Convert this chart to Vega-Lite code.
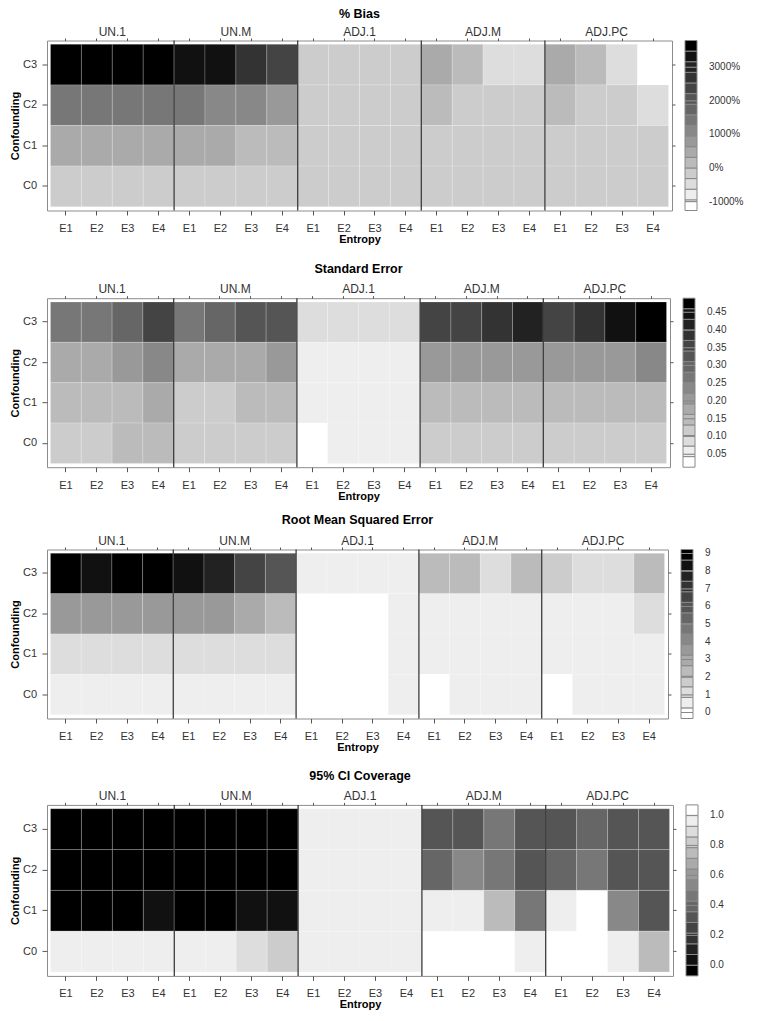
{
  "$schema": "https://vega.github.io/schema/vega-lite/v6.json",
  "padding": {"left": 8, "top": 6.5, "right": 5, "bottom": 5},
  "config": {
    "font": "Liberation Sans",
    "view": {"stroke": "#8c8c8c", "strokeWidth": 1},
    "axis": {"labelFontSize": 11, "labelColor": "#333333", "tickColor": "#555555", "titleFontSize": 11, "titleFontWeight": "bold", "titleColor": "#000000", "grid": false},
    "title": {"fontSize": 12.5, "fontWeight": "bold", "frame": "group", "anchor": "middle", "color": "#000000"},
    "legend": {"labelFontSize": 10, "labelColor": "#333333", "gradientThickness": 12, "offset": 9, "labelOffset": 12, "gradientStrokeColor": "#888888", "gradientStrokeWidth": 1, "labelOverlap": false}
  },
  "datasets": {
    "seps": [{"g": "UN.M"}, {"g": "ADJ.1"}, {"g": "ADJ.M"}, {"g": "ADJ.PC"}],
    "bias": [
      {"k":"UN.1|E1","c":"C3","v":3550},{"k":"UN.1|E2","c":"C3","v":3550},{"k":"UN.1|E3","c":"C3","v":3550},{"k":"UN.1|E4","c":"C3","v":3550},
      {"k":"UN.1|E1","c":"C2","v":1420},{"k":"UN.1|E2","c":"C2","v":1420},{"k":"UN.1|E3","c":"C2","v":1420},{"k":"UN.1|E4","c":"C2","v":1420},
      {"k":"UN.1|E1","c":"C1","v":470},{"k":"UN.1|E2","c":"C1","v":470},{"k":"UN.1|E3","c":"C1","v":470},{"k":"UN.1|E4","c":"C1","v":470},
      {"k":"UN.1|E1","c":"C0","v":-50},{"k":"UN.1|E2","c":"C0","v":-50},{"k":"UN.1|E3","c":"C0","v":-50},{"k":"UN.1|E4","c":"C0","v":-50},
      {"k":"UN.M|E1","c":"C3","v":3320},{"k":"UN.M|E2","c":"C3","v":3320},{"k":"UN.M|E3","c":"C3","v":2690},{"k":"UN.M|E4","c":"C3","v":2370},
      {"k":"UN.M|E1","c":"C2","v":1420},{"k":"UN.M|E2","c":"C2","v":1100},{"k":"UN.M|E3","c":"C2","v":1100},{"k":"UN.M|E4","c":"C2","v":790},
      {"k":"UN.M|E1","c":"C1","v":470},{"k":"UN.M|E2","c":"C1","v":470},{"k":"UN.M|E3","c":"C1","v":160},{"k":"UN.M|E4","c":"C1","v":160},
      {"k":"UN.M|E1","c":"C0","v":-50},{"k":"UN.M|E2","c":"C0","v":-50},{"k":"UN.M|E3","c":"C0","v":-50},{"k":"UN.M|E4","c":"C0","v":-50},
      {"k":"ADJ.1|E1","c":"C3","v":-50},{"k":"ADJ.1|E2","c":"C3","v":-50},{"k":"ADJ.1|E3","c":"C3","v":-50},{"k":"ADJ.1|E4","c":"C3","v":-50},
      {"k":"ADJ.1|E1","c":"C2","v":-50},{"k":"ADJ.1|E2","c":"C2","v":-50},{"k":"ADJ.1|E3","c":"C2","v":-50},{"k":"ADJ.1|E4","c":"C2","v":-50},
      {"k":"ADJ.1|E1","c":"C1","v":-50},{"k":"ADJ.1|E2","c":"C1","v":-50},{"k":"ADJ.1|E3","c":"C1","v":-50},{"k":"ADJ.1|E4","c":"C1","v":-50},
      {"k":"ADJ.1|E1","c":"C0","v":-50},{"k":"ADJ.1|E2","c":"C0","v":-50},{"k":"ADJ.1|E3","c":"C0","v":-50},{"k":"ADJ.1|E4","c":"C0","v":-50},
      {"k":"ADJ.M|E1","c":"C3","v":470},{"k":"ADJ.M|E2","c":"C3","v":160},{"k":"ADJ.M|E3","c":"C3","v":-470},{"k":"ADJ.M|E4","c":"C3","v":-470},
      {"k":"ADJ.M|E1","c":"C2","v":160},{"k":"ADJ.M|E2","c":"C2","v":-50},{"k":"ADJ.M|E3","c":"C2","v":-50},{"k":"ADJ.M|E4","c":"C2","v":-50},
      {"k":"ADJ.M|E1","c":"C1","v":-50},{"k":"ADJ.M|E2","c":"C1","v":-50},{"k":"ADJ.M|E3","c":"C1","v":-50},{"k":"ADJ.M|E4","c":"C1","v":-50},
      {"k":"ADJ.M|E1","c":"C0","v":-50},{"k":"ADJ.M|E2","c":"C0","v":-50},{"k":"ADJ.M|E3","c":"C0","v":-50},{"k":"ADJ.M|E4","c":"C0","v":-50},
      {"k":"ADJ.PC|E1","c":"C3","v":470},{"k":"ADJ.PC|E2","c":"C3","v":160},{"k":"ADJ.PC|E3","c":"C3","v":-470},{"k":"ADJ.PC|E4","c":"C3","v":-1000},
      {"k":"ADJ.PC|E1","c":"C2","v":160},{"k":"ADJ.PC|E2","c":"C2","v":-50},{"k":"ADJ.PC|E3","c":"C2","v":-50},{"k":"ADJ.PC|E4","c":"C2","v":-470},
      {"k":"ADJ.PC|E1","c":"C1","v":-50},{"k":"ADJ.PC|E2","c":"C1","v":-50},{"k":"ADJ.PC|E3","c":"C1","v":-50},{"k":"ADJ.PC|E4","c":"C1","v":-50},
      {"k":"ADJ.PC|E1","c":"C0","v":-50},{"k":"ADJ.PC|E2","c":"C0","v":-50},{"k":"ADJ.PC|E3","c":"C0","v":-50},{"k":"ADJ.PC|E4","c":"C0","v":-50}
    ],
    "se": [
      {"k":"UN.1|E1","c":"C3","v":0.266},{"k":"UN.1|E2","c":"C3","v":0.266},{"k":"UN.1|E3","c":"C3","v":0.296},{"k":"UN.1|E4","c":"C3","v":0.356},
      {"k":"UN.1|E1","c":"C2","v":0.177},{"k":"UN.1|E2","c":"C2","v":0.177},{"k":"UN.1|E3","c":"C2","v":0.207},{"k":"UN.1|E4","c":"C2","v":0.237},
      {"k":"UN.1|E1","c":"C1","v":0.148},{"k":"UN.1|E2","c":"C1","v":0.148},{"k":"UN.1|E3","c":"C1","v":0.14},{"k":"UN.1|E4","c":"C1","v":0.177},
      {"k":"UN.1|E1","c":"C0","v":0.118},{"k":"UN.1|E2","c":"C0","v":0.118},{"k":"UN.1|E3","c":"C0","v":0.148},{"k":"UN.1|E4","c":"C0","v":0.148},
      {"k":"UN.M|E1","c":"C3","v":0.266},{"k":"UN.M|E2","c":"C3","v":0.296},{"k":"UN.M|E3","c":"C3","v":0.326},{"k":"UN.M|E4","c":"C3","v":0.326},
      {"k":"UN.M|E1","c":"C2","v":0.177},{"k":"UN.M|E2","c":"C2","v":0.177},{"k":"UN.M|E3","c":"C2","v":0.177},{"k":"UN.M|E4","c":"C2","v":0.207},
      {"k":"UN.M|E1","c":"C1","v":0.118},{"k":"UN.M|E2","c":"C1","v":0.118},{"k":"UN.M|E3","c":"C1","v":0.148},{"k":"UN.M|E4","c":"C1","v":0.148},
      {"k":"UN.M|E1","c":"C0","v":0.118},{"k":"UN.M|E2","c":"C0","v":0.118},{"k":"UN.M|E3","c":"C0","v":0.118},{"k":"UN.M|E4","c":"C0","v":0.118},
      {"k":"ADJ.1|E1","c":"C3","v":0.088},{"k":"ADJ.1|E2","c":"C3","v":0.088},{"k":"ADJ.1|E3","c":"C3","v":0.088},{"k":"ADJ.1|E4","c":"C3","v":0.088},
      {"k":"ADJ.1|E1","c":"C2","v":0.058},{"k":"ADJ.1|E2","c":"C2","v":0.058},{"k":"ADJ.1|E3","c":"C2","v":0.058},{"k":"ADJ.1|E4","c":"C2","v":0.058},
      {"k":"ADJ.1|E1","c":"C1","v":0.058},{"k":"ADJ.1|E2","c":"C1","v":0.058},{"k":"ADJ.1|E3","c":"C1","v":0.058},{"k":"ADJ.1|E4","c":"C1","v":0.058},
      {"k":"ADJ.1|E1","c":"C0","v":0.03},{"k":"ADJ.1|E2","c":"C0","v":0.058},{"k":"ADJ.1|E3","c":"C0","v":0.058},{"k":"ADJ.1|E4","c":"C0","v":0.058},
      {"k":"ADJ.M|E1","c":"C3","v":0.356},{"k":"ADJ.M|E2","c":"C3","v":0.356},{"k":"ADJ.M|E3","c":"C3","v":0.385},{"k":"ADJ.M|E4","c":"C3","v":0.415},
      {"k":"ADJ.M|E1","c":"C2","v":0.207},{"k":"ADJ.M|E2","c":"C2","v":0.207},{"k":"ADJ.M|E3","c":"C2","v":0.207},{"k":"ADJ.M|E4","c":"C2","v":0.207},
      {"k":"ADJ.M|E1","c":"C1","v":0.148},{"k":"ADJ.M|E2","c":"C1","v":0.148},{"k":"ADJ.M|E3","c":"C1","v":0.148},{"k":"ADJ.M|E4","c":"C1","v":0.148},
      {"k":"ADJ.M|E1","c":"C0","v":0.118},{"k":"ADJ.M|E2","c":"C0","v":0.118},{"k":"ADJ.M|E3","c":"C0","v":0.118},{"k":"ADJ.M|E4","c":"C0","v":0.118},
      {"k":"ADJ.PC|E1","c":"C3","v":0.356},{"k":"ADJ.PC|E2","c":"C3","v":0.385},{"k":"ADJ.PC|E3","c":"C3","v":0.445},{"k":"ADJ.PC|E4","c":"C3","v":0.47},
      {"k":"ADJ.PC|E1","c":"C2","v":0.207},{"k":"ADJ.PC|E2","c":"C2","v":0.207},{"k":"ADJ.PC|E3","c":"C2","v":0.207},{"k":"ADJ.PC|E4","c":"C2","v":0.237},
      {"k":"ADJ.PC|E1","c":"C1","v":0.148},{"k":"ADJ.PC|E2","c":"C1","v":0.148},{"k":"ADJ.PC|E3","c":"C1","v":0.148},{"k":"ADJ.PC|E4","c":"C1","v":0.148},
      {"k":"ADJ.PC|E1","c":"C0","v":0.118},{"k":"ADJ.PC|E2","c":"C0","v":0.118},{"k":"ADJ.PC|E3","c":"C0","v":0.118},{"k":"ADJ.PC|E4","c":"C0","v":0.118}
    ],
    "rmse": [
      {"k":"UN.1|E1","c":"C3","v":8.9},{"k":"UN.1|E2","c":"C3","v":8.33},{"k":"UN.1|E3","c":"C3","v":8.9},{"k":"UN.1|E4","c":"C3","v":8.9},
      {"k":"UN.1|E1","c":"C2","v":3.55},{"k":"UN.1|E2","c":"C2","v":3.55},{"k":"UN.1|E3","c":"C2","v":3.55},{"k":"UN.1|E4","c":"C2","v":3.55},
      {"k":"UN.1|E1","c":"C1","v":1.15},{"k":"UN.1|E2","c":"C1","v":1.15},{"k":"UN.1|E3","c":"C1","v":1.15},{"k":"UN.1|E4","c":"C1","v":1.15},
      {"k":"UN.1|E1","c":"C0","v":0.56},{"k":"UN.1|E2","c":"C0","v":0.56},{"k":"UN.1|E3","c":"C0","v":0.56},{"k":"UN.1|E4","c":"C0","v":0.56},
      {"k":"UN.M|E1","c":"C3","v":8.33},{"k":"UN.M|E2","c":"C3","v":7.73},{"k":"UN.M|E3","c":"C3","v":6.54},{"k":"UN.M|E4","c":"C3","v":5.94},
      {"k":"UN.M|E1","c":"C2","v":3.55},{"k":"UN.M|E2","c":"C2","v":3.55},{"k":"UN.M|E3","c":"C2","v":2.95},{"k":"UN.M|E4","c":"C2","v":2.35},
      {"k":"UN.M|E1","c":"C1","v":1.15},{"k":"UN.M|E2","c":"C1","v":1.15},{"k":"UN.M|E3","c":"C1","v":1.15},{"k":"UN.M|E4","c":"C1","v":1.15},
      {"k":"UN.M|E1","c":"C0","v":0.56},{"k":"UN.M|E2","c":"C0","v":0.56},{"k":"UN.M|E3","c":"C0","v":0.56},{"k":"UN.M|E4","c":"C0","v":0.56},
      {"k":"ADJ.1|E1","c":"C3","v":0.56},{"k":"ADJ.1|E2","c":"C3","v":0.56},{"k":"ADJ.1|E3","c":"C3","v":0.56},{"k":"ADJ.1|E4","c":"C3","v":0.56},
      {"k":"ADJ.1|E1","c":"C2","v":0.2},{"k":"ADJ.1|E2","c":"C2","v":0.2},{"k":"ADJ.1|E3","c":"C2","v":0.2},{"k":"ADJ.1|E4","c":"C2","v":0.56},
      {"k":"ADJ.1|E1","c":"C1","v":0.2},{"k":"ADJ.1|E2","c":"C1","v":0.2},{"k":"ADJ.1|E3","c":"C1","v":0.2},{"k":"ADJ.1|E4","c":"C1","v":0.56},
      {"k":"ADJ.1|E1","c":"C0","v":0.2},{"k":"ADJ.1|E2","c":"C0","v":0.2},{"k":"ADJ.1|E3","c":"C0","v":0.2},{"k":"ADJ.1|E4","c":"C0","v":0.56},
      {"k":"ADJ.M|E1","c":"C3","v":2.35},{"k":"ADJ.M|E2","c":"C3","v":2.35},{"k":"ADJ.M|E3","c":"C3","v":1.15},{"k":"ADJ.M|E4","c":"C3","v":2.35},
      {"k":"ADJ.M|E1","c":"C2","v":0.56},{"k":"ADJ.M|E2","c":"C2","v":0.56},{"k":"ADJ.M|E3","c":"C2","v":0.56},{"k":"ADJ.M|E4","c":"C2","v":0.56},
      {"k":"ADJ.M|E1","c":"C1","v":0.56},{"k":"ADJ.M|E2","c":"C1","v":0.56},{"k":"ADJ.M|E3","c":"C1","v":0.56},{"k":"ADJ.M|E4","c":"C1","v":0.56},
      {"k":"ADJ.M|E1","c":"C0","v":0.2},{"k":"ADJ.M|E2","c":"C0","v":0.56},{"k":"ADJ.M|E3","c":"C0","v":0.56},{"k":"ADJ.M|E4","c":"C0","v":0.56},
      {"k":"ADJ.PC|E1","c":"C3","v":1.75},{"k":"ADJ.PC|E2","c":"C3","v":1.15},{"k":"ADJ.PC|E3","c":"C3","v":1.15},{"k":"ADJ.PC|E4","c":"C3","v":2.35},
      {"k":"ADJ.PC|E1","c":"C2","v":0.56},{"k":"ADJ.PC|E2","c":"C2","v":0.56},{"k":"ADJ.PC|E3","c":"C2","v":0.56},{"k":"ADJ.PC|E4","c":"C2","v":1.15},
      {"k":"ADJ.PC|E1","c":"C1","v":0.56},{"k":"ADJ.PC|E2","c":"C1","v":0.56},{"k":"ADJ.PC|E3","c":"C1","v":0.56},{"k":"ADJ.PC|E4","c":"C1","v":0.56},
      {"k":"ADJ.PC|E1","c":"C0","v":0.2},{"k":"ADJ.PC|E2","c":"C0","v":0.56},{"k":"ADJ.PC|E3","c":"C0","v":0.56},{"k":"ADJ.PC|E4","c":"C0","v":0.56}
    ],
    "cov": [
      {"k":"UN.1|E1","c":"C3","v":0},{"k":"UN.1|E2","c":"C3","v":0},{"k":"UN.1|E3","c":"C3","v":0},{"k":"UN.1|E4","c":"C3","v":0},
      {"k":"UN.1|E1","c":"C2","v":0},{"k":"UN.1|E2","c":"C2","v":0},{"k":"UN.1|E3","c":"C2","v":0},{"k":"UN.1|E4","c":"C2","v":0},
      {"k":"UN.1|E1","c":"C1","v":0},{"k":"UN.1|E2","c":"C1","v":0},{"k":"UN.1|E3","c":"C1","v":0},{"k":"UN.1|E4","c":"C1","v":0.04},
      {"k":"UN.1|E1","c":"C0","v":0.96},{"k":"UN.1|E2","c":"C0","v":0.96},{"k":"UN.1|E3","c":"C0","v":0.96},{"k":"UN.1|E4","c":"C0","v":0.96},
      {"k":"UN.M|E1","c":"C3","v":0},{"k":"UN.M|E2","c":"C3","v":0},{"k":"UN.M|E3","c":"C3","v":0},{"k":"UN.M|E4","c":"C3","v":0},
      {"k":"UN.M|E1","c":"C2","v":0},{"k":"UN.M|E2","c":"C2","v":0},{"k":"UN.M|E3","c":"C2","v":0},{"k":"UN.M|E4","c":"C2","v":0},
      {"k":"UN.M|E1","c":"C1","v":0},{"k":"UN.M|E2","c":"C1","v":0},{"k":"UN.M|E3","c":"C1","v":0.04},{"k":"UN.M|E4","c":"C1","v":0.04},
      {"k":"UN.M|E1","c":"C0","v":0.96},{"k":"UN.M|E2","c":"C0","v":0.96},{"k":"UN.M|E3","c":"C0","v":0.89},{"k":"UN.M|E4","c":"C0","v":0.82},
      {"k":"ADJ.1|E1","c":"C3","v":0.96},{"k":"ADJ.1|E2","c":"C3","v":0.96},{"k":"ADJ.1|E3","c":"C3","v":0.96},{"k":"ADJ.1|E4","c":"C3","v":0.96},
      {"k":"ADJ.1|E1","c":"C2","v":0.96},{"k":"ADJ.1|E2","c":"C2","v":0.96},{"k":"ADJ.1|E3","c":"C2","v":0.96},{"k":"ADJ.1|E4","c":"C2","v":0.96},
      {"k":"ADJ.1|E1","c":"C1","v":0.96},{"k":"ADJ.1|E2","c":"C1","v":0.96},{"k":"ADJ.1|E3","c":"C1","v":0.96},{"k":"ADJ.1|E4","c":"C1","v":0.96},
      {"k":"ADJ.1|E1","c":"C0","v":0.96},{"k":"ADJ.1|E2","c":"C0","v":0.96},{"k":"ADJ.1|E3","c":"C0","v":0.96},{"k":"ADJ.1|E4","c":"C0","v":0.96},
      {"k":"ADJ.M|E1","c":"C3","v":0.32},{"k":"ADJ.M|E2","c":"C3","v":0.32},{"k":"ADJ.M|E3","c":"C3","v":0.46},{"k":"ADJ.M|E4","c":"C3","v":0.32},
      {"k":"ADJ.M|E1","c":"C2","v":0.39},{"k":"ADJ.M|E2","c":"C2","v":0.54},{"k":"ADJ.M|E3","c":"C2","v":0.46},{"k":"ADJ.M|E4","c":"C2","v":0.32},
      {"k":"ADJ.M|E1","c":"C1","v":0.96},{"k":"ADJ.M|E2","c":"C1","v":0.96},{"k":"ADJ.M|E3","c":"C1","v":0.75},{"k":"ADJ.M|E4","c":"C1","v":0.46},
      {"k":"ADJ.M|E1","c":"C0","v":1.0},{"k":"ADJ.M|E2","c":"C0","v":1.0},{"k":"ADJ.M|E3","c":"C0","v":1.0},{"k":"ADJ.M|E4","c":"C0","v":0.96},
      {"k":"ADJ.PC|E1","c":"C3","v":0.32},{"k":"ADJ.PC|E2","c":"C3","v":0.39},{"k":"ADJ.PC|E3","c":"C3","v":0.32},{"k":"ADJ.PC|E4","c":"C3","v":0.32},
      {"k":"ADJ.PC|E1","c":"C2","v":0.39},{"k":"ADJ.PC|E2","c":"C2","v":0.46},{"k":"ADJ.PC|E3","c":"C2","v":0.32},{"k":"ADJ.PC|E4","c":"C2","v":0.32},
      {"k":"ADJ.PC|E1","c":"C1","v":0.96},{"k":"ADJ.PC|E2","c":"C1","v":1.0},{"k":"ADJ.PC|E3","c":"C1","v":0.54},{"k":"ADJ.PC|E4","c":"C1","v":0.32},
      {"k":"ADJ.PC|E1","c":"C0","v":1.0},{"k":"ADJ.PC|E2","c":"C0","v":1.0},{"k":"ADJ.PC|E3","c":"C0","v":0.96},{"k":"ADJ.PC|E4","c":"C0","v":0.75}
    ]
  },
  "spacing": 10,
  "resolve": {"scale": {"color": "independent"}},
  "vconcat": [
    {
      "spacing": 16.7,
      "resolve": {"scale": {"color": "independent"}},
      "vconcat": [
        {
          "width": 625, "height": 170,
          "title": {"text": "% Bias", "offset": 5},
          "layer": [
            {"data": {"name": "bias"}, "mark": {"type": "rect", "stroke": "#ffffff", "strokeOpacity": 0.25, "strokeWidth": 0.8},
             "encoding": {
               "x": {"field": "k", "type": "nominal", "scale": {"domain": ["UN.1|E1","UN.1|E2","UN.1|E3","UN.1|E4","UN.M|E1","UN.M|E2","UN.M|E3","UN.M|E4","ADJ.1|E1","ADJ.1|E2","ADJ.1|E3","ADJ.1|E4","ADJ.M|E1","ADJ.M|E2","ADJ.M|E3","ADJ.M|E4","ADJ.PC|E1","ADJ.PC|E2","ADJ.PC|E3","ADJ.PC|E4"], "paddingInner": 0, "paddingOuter": 0.113},
                     "axis": {"title": "Entropy", "labelExpr": "split(datum.label, '|')[1]", "labelAngle": 0, "tickSize": 4.5, "labelPadding": 7.5, "domain": false, "titlePadding": 0}},
               "y": {"field": "c", "type": "nominal", "scale": {"domain": ["C3","C2","C1","C0"], "paddingInner": 0, "paddingOuter": 0.094},
                     "axis": {"title": "Confounding", "tickSize": 5, "labelPadding": 5.5, "domain": false, "titlePadding": 2}},
               "color": {"field": "v", "type": "quantitative",
                         "scale": {"type": "quantize", "domain": [-1265, 3794], "nice": false, "zero": false, "range": ["#ffffff","#eeeeee","#dddddd","#cccccc","#bbbbbb","#aaaaaa","#999999","#888888","#777777","#666666","#555555","#444444","#333333","#222222","#111111","#000000"]},
                         "legend": {"type": "gradient", "title": null, "labelOffset": 12, "gradientLength": 170,
                                    "values": [-1265, -1000, -947.8, -631.6, -315.4, 0, 316.9, 633.1, 949.3, 1000, 1265.5, 1581.7, 1897.9, 2000, 2214.1, 2530.3, 2846.4, 3000, 3162.6, 3478.8],
                                    "labelExpr": "indexof([-1000, 0, 1000, 2000, 3000], datum.value) >= 0 ? datum.value + '%' : ''"}}
             }},
            {"data": {"name": "seps"}, "mark": {"type": "rule", "color": "#3c3c3c", "strokeWidth": 1.3},
             "encoding": {"x": {"field": "g", "type": "nominal", "bandPosition": 0, "scale": {"domain": ["UN.1","UN.M","ADJ.1","ADJ.M","ADJ.PC"], "paddingInner": 0, "paddingOuter": 0.0283},
                                "axis": {"orient": "top", "title": null, "ticks": false, "domain": false, "labelPadding": 2.5, "labelFontSize": 12, "labelAngle": 0}}}},
            {"data": {"name": "bias"}, "mark": {"type": "rect", "opacity": 0},
             "encoding": {
               "x": {"field": "k", "type": "nominal", "scale": {"domain": ["UN.1|E1","UN.1|E2","UN.1|E3","UN.1|E4","UN.M|E1","UN.M|E2","UN.M|E3","UN.M|E4","ADJ.1|E1","ADJ.1|E2","ADJ.1|E3","ADJ.1|E4","ADJ.M|E1","ADJ.M|E2","ADJ.M|E3","ADJ.M|E4","ADJ.PC|E1","ADJ.PC|E2","ADJ.PC|E3","ADJ.PC|E4"], "paddingInner": 0, "paddingOuter": 0.113},
                     "axis": {"orient": "top", "labels": false, "title": null, "tickSize": 2.5, "domain": false}},
               "y": {"field": "c", "type": "nominal", "scale": {"domain": ["C3","C2","C1","C0"], "paddingInner": 0, "paddingOuter": 0.094},
                     "axis": {"orient": "right", "labels": false, "title": null, "tickSize": 3, "domain": false}}
             }}
          ],
          "resolve": {"scale": {"x": "independent", "y": "independent"}}
        },
        {
          "width": 623, "height": 169,
          "title": {"text": "Standard Error", "offset": 7},
          "layer": [
            {"data": {"name": "se"}, "mark": {"type": "rect", "stroke": "#ffffff", "strokeOpacity": 0.25, "strokeWidth": 0.8},
             "encoding": {
               "x": {"field": "k", "type": "nominal", "scale": {"domain": ["UN.1|E1","UN.1|E2","UN.1|E3","UN.1|E4","UN.M|E1","UN.M|E2","UN.M|E3","UN.M|E4","ADJ.1|E1","ADJ.1|E2","ADJ.1|E3","ADJ.1|E4","ADJ.M|E1","ADJ.M|E2","ADJ.M|E3","ADJ.M|E4","ADJ.PC|E1","ADJ.PC|E2","ADJ.PC|E3","ADJ.PC|E4"], "paddingInner": 0, "paddingOuter": 0.113},
                     "axis": {"title": "Entropy", "labelExpr": "split(datum.label, '|')[1]", "labelAngle": 0, "tickSize": 4.5, "labelPadding": 7.5, "domain": false, "titlePadding": 0}},
               "y": {"field": "c", "type": "nominal", "scale": {"domain": ["C3","C2","C1","C0"], "paddingInner": 0, "paddingOuter": 0.094},
                     "axis": {"title": "Confounding", "tickSize": 5, "labelPadding": 5.5, "domain": false, "titlePadding": 2}},
               "color": {"field": "v", "type": "quantitative",
                         "scale": {"type": "quantize", "domain": [0.0134, 0.4894], "nice": false, "zero": false, "range": ["#ffffff","#eeeeee","#dddddd","#cccccc","#bbbbbb","#aaaaaa","#999999","#888888","#777777","#666666","#555555","#444444","#333333","#222222","#111111","#000000"]},
                         "legend": {"type": "gradient", "title": null, "labelOffset": 12, "gradientLength": 169,
                                    "values": [0.0134, 0.04325, 0.05, 0.073, 0.1, 0.10275, 0.1325, 0.15, 0.16225, 0.192, 0.2, 0.22175, 0.25, 0.2515, 0.28125, 0.3, 0.311, 0.34075, 0.35, 0.3705, 0.4, 0.40025, 0.43, 0.45, 0.45975],
                                    "labelExpr": "indexof([0.05, 0.1, 0.15, 0.2, 0.25, 0.3, 0.35, 0.4, 0.45], datum.value) >= 0 ? format(datum.value, '.2f') : ''"}}
             }},
            {"data": {"name": "seps"}, "mark": {"type": "rule", "color": "#3c3c3c", "strokeWidth": 1.3},
             "encoding": {"x": {"field": "g", "type": "nominal", "bandPosition": 0, "scale": {"domain": ["UN.1","UN.M","ADJ.1","ADJ.M","ADJ.PC"], "paddingInner": 0, "paddingOuter": 0.0283},
                                "axis": {"orient": "top", "title": null, "ticks": false, "domain": false, "labelPadding": 2.5, "labelFontSize": 12, "labelAngle": 0}}}},
            {"data": {"name": "se"}, "mark": {"type": "rect", "opacity": 0},
             "encoding": {
               "x": {"field": "k", "type": "nominal", "scale": {"domain": ["UN.1|E1","UN.1|E2","UN.1|E3","UN.1|E4","UN.M|E1","UN.M|E2","UN.M|E3","UN.M|E4","ADJ.1|E1","ADJ.1|E2","ADJ.1|E3","ADJ.1|E4","ADJ.M|E1","ADJ.M|E2","ADJ.M|E3","ADJ.M|E4","ADJ.PC|E1","ADJ.PC|E2","ADJ.PC|E3","ADJ.PC|E4"], "paddingInner": 0, "paddingOuter": 0.113},
                     "axis": {"orient": "top", "labels": false, "title": null, "tickSize": 2.5, "domain": false}},
               "y": {"field": "c", "type": "nominal", "scale": {"domain": ["C3","C2","C1","C0"], "paddingInner": 0, "paddingOuter": 0.094},
                     "axis": {"orient": "right", "labels": false, "title": null, "tickSize": 3, "domain": false}}
             }}
          ],
          "resolve": {"scale": {"x": "independent", "y": "independent"}}
        }
      ]
    },
    {
      "spacing": 15.4,
      "resolve": {"scale": {"color": "independent"}},
      "vconcat": [
        {
          "width": 621, "height": 169,
          "title": {"text": "Root Mean Squared Error", "offset": 7.7},
          "layer": [
            {"data": {"name": "rmse"}, "mark": {"type": "rect", "stroke": "#ffffff", "strokeOpacity": 0.25, "strokeWidth": 0.8},
             "encoding": {
               "x": {"field": "k", "type": "nominal", "scale": {"domain": ["UN.1|E1","UN.1|E2","UN.1|E3","UN.1|E4","UN.M|E1","UN.M|E2","UN.M|E3","UN.M|E4","ADJ.1|E1","ADJ.1|E2","ADJ.1|E3","ADJ.1|E4","ADJ.M|E1","ADJ.M|E2","ADJ.M|E3","ADJ.M|E4","ADJ.PC|E1","ADJ.PC|E2","ADJ.PC|E3","ADJ.PC|E4"], "paddingInner": 0, "paddingOuter": 0.113},
                     "axis": {"title": "Entropy", "labelExpr": "split(datum.label, '|')[1]", "labelAngle": 0, "tickSize": 4.5, "labelPadding": 7.5, "domain": false, "titlePadding": 0}},
               "y": {"field": "c", "type": "nominal", "scale": {"domain": ["C3","C2","C1","C0"], "paddingInner": 0, "paddingOuter": 0.094},
                     "axis": {"title": "Confounding", "tickSize": 5, "labelPadding": 5.5, "domain": false, "titlePadding": 2}},
               "color": {"field": "v", "type": "quantitative",
                         "scale": {"type": "quantize", "domain": [-0.34, 9.226], "nice": false, "zero": false, "range": ["#ffffff","#eeeeee","#dddddd","#cccccc","#bbbbbb","#aaaaaa","#999999","#888888","#777777","#666666","#555555","#444444","#333333","#222222","#111111","#000000"]},
                         "legend": {"type": "gradient", "title": null, "labelOffset": 12, "gradientLength": 169,
                                    "values": [-0.34, 0, 0.2589, 0.8568, 1, 1.4546, 2, 2.0525, 2.6504, 3, 3.2483, 3.8461, 4, 4.444, 5, 5.0419, 5.6398, 6, 6.2376, 6.8355, 7, 7.4334, 8, 8.0313, 8.6291, 9],
                                    "labelExpr": "indexof([0, 1, 2, 3, 4, 5, 6, 7, 8, 9], datum.value) >= 0 ? format(datum.value, 'd') : ''"}}
             }},
            {"data": {"name": "seps"}, "mark": {"type": "rule", "color": "#3c3c3c", "strokeWidth": 1.3},
             "encoding": {"x": {"field": "g", "type": "nominal", "bandPosition": 0, "scale": {"domain": ["UN.1","UN.M","ADJ.1","ADJ.M","ADJ.PC"], "paddingInner": 0, "paddingOuter": 0.0283},
                                "axis": {"orient": "top", "title": null, "ticks": false, "domain": false, "labelPadding": 2.5, "labelFontSize": 12, "labelAngle": 0}}}},
            {"data": {"name": "rmse"}, "mark": {"type": "rect", "opacity": 0},
             "encoding": {
               "x": {"field": "k", "type": "nominal", "scale": {"domain": ["UN.1|E1","UN.1|E2","UN.1|E3","UN.1|E4","UN.M|E1","UN.M|E2","UN.M|E3","UN.M|E4","ADJ.1|E1","ADJ.1|E2","ADJ.1|E3","ADJ.1|E4","ADJ.M|E1","ADJ.M|E2","ADJ.M|E3","ADJ.M|E4","ADJ.PC|E1","ADJ.PC|E2","ADJ.PC|E3","ADJ.PC|E4"], "paddingInner": 0, "paddingOuter": 0.113},
                     "axis": {"orient": "top", "labels": false, "title": null, "tickSize": 2.5, "domain": false}},
               "y": {"field": "c", "type": "nominal", "scale": {"domain": ["C3","C2","C1","C0"], "paddingInner": 0, "paddingOuter": 0.094},
                     "axis": {"orient": "right", "labels": false, "title": null, "tickSize": 3, "domain": false}}
             }}
          ],
          "resolve": {"scale": {"x": "independent", "y": "independent"}}
        },
        {
          "width": 626, "height": 171,
          "title": {"text": "95% CI Coverage", "offset": 6.9},
          "layer": [
            {"data": {"name": "cov"}, "mark": {"type": "rect", "stroke": "#ffffff", "strokeOpacity": 0.25, "strokeWidth": 0.8},
             "encoding": {
               "x": {"field": "k", "type": "nominal", "scale": {"domain": ["UN.1|E1","UN.1|E2","UN.1|E3","UN.1|E4","UN.M|E1","UN.M|E2","UN.M|E3","UN.M|E4","ADJ.1|E1","ADJ.1|E2","ADJ.1|E3","ADJ.1|E4","ADJ.M|E1","ADJ.M|E2","ADJ.M|E3","ADJ.M|E4","ADJ.PC|E1","ADJ.PC|E2","ADJ.PC|E3","ADJ.PC|E4"], "paddingInner": 0, "paddingOuter": 0.113},
                     "axis": {"title": "Entropy", "labelExpr": "split(datum.label, '|')[1]", "labelAngle": 0, "tickSize": 4.5, "labelPadding": 7.5, "domain": false, "titlePadding": 0}},
               "y": {"field": "c", "type": "nominal", "scale": {"domain": ["C3","C2","C1","C0"], "paddingInner": 0, "paddingOuter": 0.094},
                     "axis": {"title": "Confounding", "tickSize": 5, "labelPadding": 5.5, "domain": false, "titlePadding": 2}},
               "color": {"field": "v", "type": "quantitative",
                         "scale": {"type": "quantize", "domain": [-0.07, 1.07], "nice": false, "zero": false, "range": ["#000000","#111111","#222222","#333333","#444444","#555555","#666666","#777777","#888888","#999999","#aaaaaa","#bbbbbb","#cccccc","#dddddd","#eeeeee","#ffffff"]},
                         "legend": {"type": "gradient", "title": null, "labelOffset": 12, "gradientLength": 171,
                                    "values": [-0.07, 0, 0.00135, 0.0726, 0.14385, 0.2, 0.2151, 0.28635, 0.3576, 0.4, 0.42885, 0.5001, 0.57135, 0.6, 0.6426, 0.71385, 0.7851, 0.8, 0.85635, 0.9276, 0.99885, 1.0],
                                    "labelExpr": "indexof([0, 0.2, 0.4, 0.6, 0.8, 1], datum.value) >= 0 ? format(datum.value, '.1f') : ''"}}
             }},
            {"data": {"name": "seps"}, "mark": {"type": "rule", "color": "#3c3c3c", "strokeWidth": 1.3},
             "encoding": {"x": {"field": "g", "type": "nominal", "bandPosition": 0, "scale": {"domain": ["UN.1","UN.M","ADJ.1","ADJ.M","ADJ.PC"], "paddingInner": 0, "paddingOuter": 0.0283},
                                "axis": {"orient": "top", "title": null, "ticks": false, "domain": false, "labelPadding": 2.5, "labelFontSize": 12, "labelAngle": 0}}}},
            {"data": {"name": "cov"}, "mark": {"type": "rect", "opacity": 0},
             "encoding": {
               "x": {"field": "k", "type": "nominal", "scale": {"domain": ["UN.1|E1","UN.1|E2","UN.1|E3","UN.1|E4","UN.M|E1","UN.M|E2","UN.M|E3","UN.M|E4","ADJ.1|E1","ADJ.1|E2","ADJ.1|E3","ADJ.1|E4","ADJ.M|E1","ADJ.M|E2","ADJ.M|E3","ADJ.M|E4","ADJ.PC|E1","ADJ.PC|E2","ADJ.PC|E3","ADJ.PC|E4"], "paddingInner": 0, "paddingOuter": 0.113},
                     "axis": {"orient": "top", "labels": false, "title": null, "tickSize": 2.5, "domain": false}},
               "y": {"field": "c", "type": "nominal", "scale": {"domain": ["C3","C2","C1","C0"], "paddingInner": 0, "paddingOuter": 0.094},
                     "axis": {"orient": "right", "labels": false, "title": null, "tickSize": 3, "domain": false}}
             }}
          ],
          "resolve": {"scale": {"x": "independent", "y": "independent"}}
        }
      ]
    }
  ]
}
